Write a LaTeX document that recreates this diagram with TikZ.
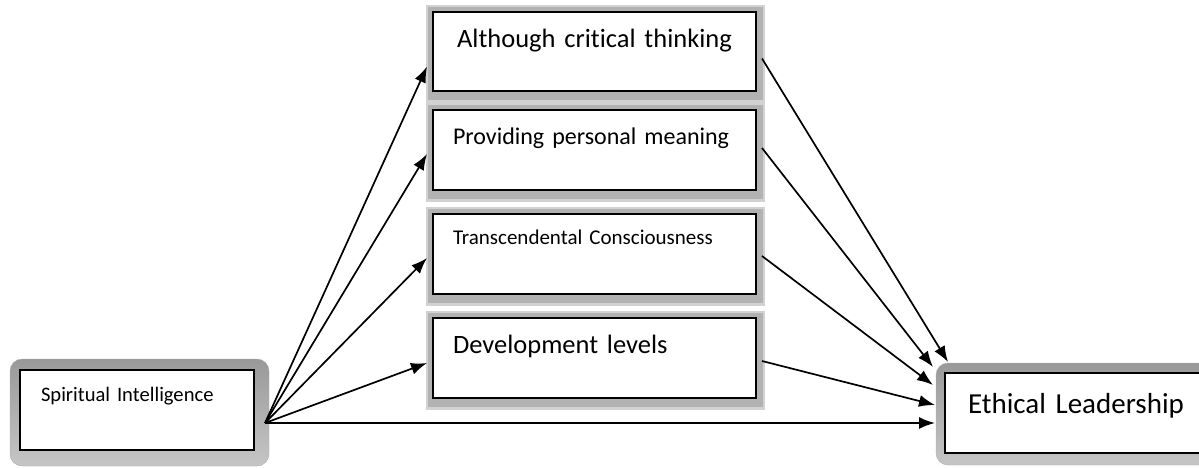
\documentclass[tikz,border=0pt]{standalone}
\usepackage{fontspec}
\setmainfont{Carlito}[Ligatures=NoCommon]
\usepackage{tikz}
\usetikzlibrary{arrows.meta,calc,backgrounds}
\tikzset{>={Latex[length=16pt,width=12pt]}}

\begin{document}
\begin{tikzpicture}[x=1pt,y=-1pt,
                    factor/.style={draw,line width=2pt,fill=white,anchor=north west,
                                   inner xsep=20pt,inner ysep=0pt,text width=283pt,align=left},
                    endbox/.style={draw,line width=2pt,fill=white,anchor=north west,
                                   inner ysep=0pt,align=left},
                    link/.style={->,line width=1.7pt},
                    bevel/.style={rounded corners=12pt,top color=gray!80,bottom color=gray!45,draw=gray!65}
        ]
    \useasboundingbox (0,0) rectangle (1199,468);
    \node[factor,align=center,text height=36pt,text depth=43pt,font=\fontsize{26.5}{30}\selectfont] (act) at (432,11) {Although critical thinking};
    \node[factor,text height=34pt,text depth=46pt,font=\fontsize{24}{28}\selectfont] (ppm) at (432,109) {Providing personal meaning};
    \node[factor,text height=30pt,text depth=50pt,font=\fontsize{21}{25}\selectfont] (tc) at (432,213) {Transcendental Consciousness};
    \node[factor,text height=35pt,text depth=45pt,font=\fontsize{26.5}{30}\selectfont] (dl) at (432,317) {Development levels};
    \node[endbox,inner xsep=21pt,text width=192pt,text height=31pt,text depth=49pt,font=\fontsize{20.6}{24}\selectfont] (si) at (19,369) {Spiritual Intelligence};
    \node[endbox,inner xsep=23pt,text width=230pt,text height=40pt,text depth=40pt,font=\fontsize{29}{33}\selectfont] (el) at (944,372) {Ethical Leadership};

    % frames behind the boxes
    \begin{scope}[on background layer]
        \foreach \b in {act,ppm,tc,dl} {
            \fill[gray!35] ([shift={(-6,-6)}]\b.north west) rectangle ([shift={(8,11)}]\b.south east);
            \fill[gray!60] ([shift={(-4,-4)}]\b.north west) rectangle ([shift={(6,8)}]\b.south east);
        }
        \shade[bevel] ([shift={(-9,-10)}]si.north west) rectangle ([shift={(14,15)}]si.south east);
        \shade[bevel] ([shift={(-8,-9)}]el.north west) rectangle ([shift={(14,11)}]el.south east);
    \end{scope}

    \coordinate (fan) at ([shift={(10,13)}]si.east);
    \draw[link] (fan) -- ([shift={(-5,15)}]act.west);
    \draw[link] (fan) -- ([shift={(-5,4)}]ppm.west);
    \draw[link] (fan) -- ([shift={(-5,4)}]tc.west);
    \draw[link] (fan) -- ([shift={(-5,5)}]dl.west);
    \draw[link] (fan) -- ([shift={(-9,10)}]el.west);
    \draw[link] ([shift={(5,7)}]act.east) -- ([shift={(4,-10)}]el.north west);
    \draw[link] ([shift={(5,-2)}]ppm.east) -- ([shift={(-11,-5)}]el.north west);
    \draw[link] ([shift={(5,2)}]tc.east) -- ([shift={(-11,13)}]el.north west);
    \draw[link] ([shift={(5,3)}]dl.east) -- ([shift={(-9,33)}]el.north west);
\end{tikzpicture}
\end{document}
